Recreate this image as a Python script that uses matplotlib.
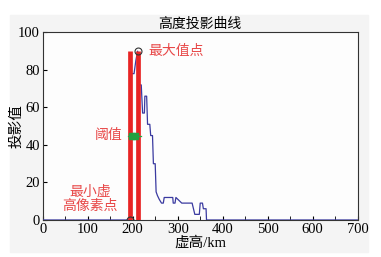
import matplotlib
matplotlib.use("Agg")
from matplotlib import pyplot as plt
from matplotlib.patches import Rectangle

plt.rcParams['font.family'] = ['Liberation Serif', 'Noto Sans CJK SC']
plt.rcParams['font.size'] = 10.5

# projection curve (height km, projection value)
heights = [0, 194, 196, 197, 203, 207, 211, 214, 219, 222, 226, 227, 231, 233,
           238, 240, 244, 246, 250, 252, 255, 259, 264, 268, 270, 289, 290,
           294, 296, 309, 332, 335, 338, 348, 350, 355, 357, 363, 364, 700]
values = [0, 0, 27, 78, 78, 85, 90, 72, 72, 57, 57, 66, 66, 51,
          51, 45, 45, 30, 30, 15, 13, 11, 9, 9, 12, 12, 9,
          9, 12, 9, 9, 6, 3, 3, 9, 9, 6, 6, 0, 0]

min_h, max_h, max_v = 194, 211, 90
thresh = 45
thresh_x = [198, 205]
thresh_span = [189, 219]

fig = plt.figure(figsize=(3.81, 2.57), dpi=100)
fig.patches.append(Rectangle((10/381, 5/257), 358/381, 237/257,
                             transform=fig.transFigure, color='#f4f4f4', zorder=-1))
ax = fig.add_axes([0.112, 0.144, 0.827, 0.730])
ax.set_facecolor('#fdfdfd')

ax.plot(heights, values, color='#3a3aa0', lw=0.9, zorder=3)
ax.vlines([min_h, max_h], 0, max_v, colors='#e82424', lw=3.4, zorder=4)
ax.plot([min_h, max_h], [0, max_v], 'o', mfc='none', mec='#333333', ms=5, mew=0.8, zorder=5)
ax.plot(thresh_span, [thresh, thresh], color='#22aa44', lw=0.9, zorder=5)
ax.plot(thresh_x, [thresh, thresh], 's', color='#22a040', ms=4.5, zorder=6)

red = '#e84848'
ax.text(235, 90, '最大值点', color=red, fontsize=10, va='center', ha='left')
ax.text(177, 45, '阈值', color=red, fontsize=10, va='center', ha='right')
ax.text(105, 11, '最小虚\n高像素点', color=red, fontsize=10, va='center', ha='center',
        linespacing=1.15)

ax.set_xlim(0, 700)
ax.set_ylim(0, 100)
ax.set_xticks(range(0, 701, 100))
ax.set_xticks(range(50, 700, 100), minor=True)
ax.set_yticks(range(0, 101, 20))
ax.tick_params(direction='in', length=3, pad=2)
ax.tick_params(which='minor', direction='in', length=3)
ax.set_title('高度投影曲线', fontsize=10, pad=3)
ax.set_xlabel('虚高/km', fontsize=10.5, labelpad=0)
ax.set_ylabel('投影值', fontsize=10.5)
ax.yaxis.set_label_coords(-0.062, 0.5)
for s in ax.spines.values():
    s.set_color('#333333')
    s.set_linewidth(0.8)

fig.savefig('out.png', dpi=100)
